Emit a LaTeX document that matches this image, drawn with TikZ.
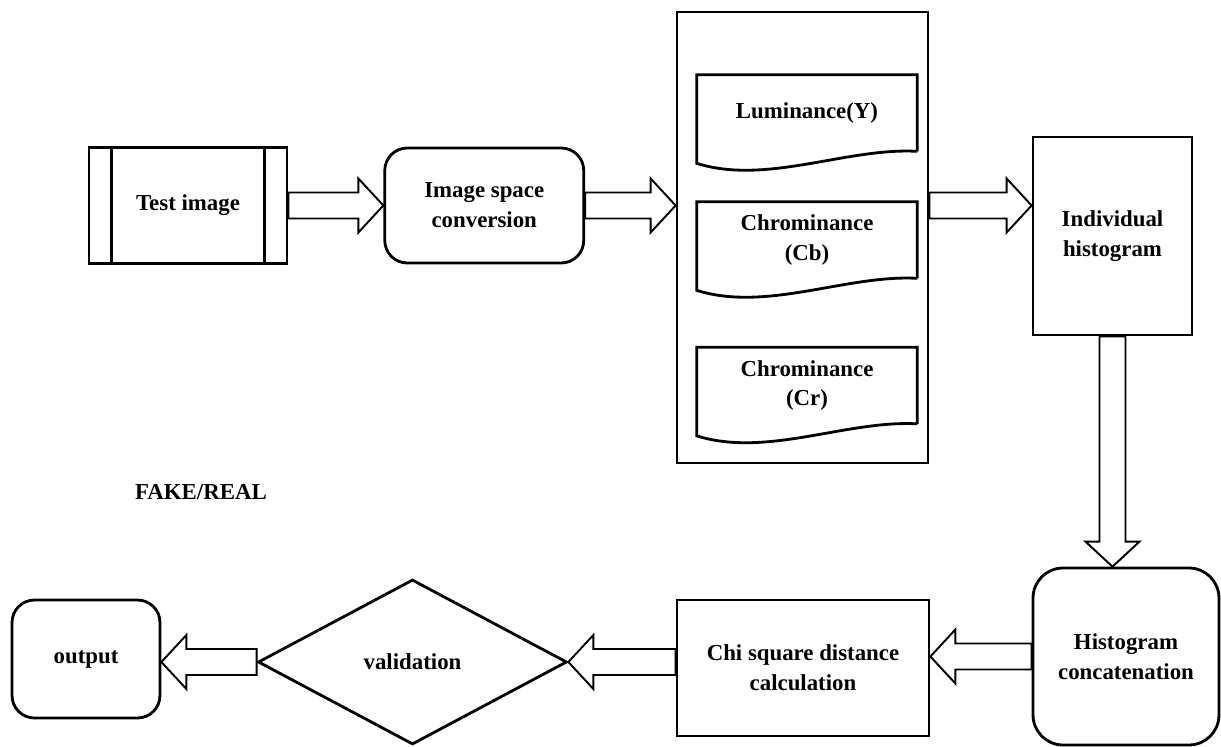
\documentclass[tikz,border=0pt]{standalone}
\usepackage{fontspec}
\setmainfont{Liberation Serif}
\usepackage{tikz}
\usetikzlibrary{ calc, positioning, shapes.geometric }
\tikzset{
every node/.style={font=\bfseries\fontsize{13}{17}\selectfont, align=center, inner sep=1pt}, % bold serif labels
box/.style={draw, line width=1.6pt}, % plain frame of a step
rbox/.style={box, rounded corners=0.45cm}, % rounded step
doc/.style={minimum width=4.4cm, minimum height=1.52cm}, % text area of a document shape
% hollow block arrow from start to target
blockarrow/.style={draw, line width=1.1pt, to path={
  ($(\tikztostart)!0.26cm!90:(\tikztotarget)$)
  -- ($(\tikztotarget)!0.5cm!(\tikztostart)!0.26cm!-90:(\tikztostart)$)
  -- ($(\tikztotarget)!0.5cm!(\tikztostart)!0.54cm!-90:(\tikztostart)$)
  -- (\tikztotarget)
  -- ($(\tikztotarget)!0.5cm!(\tikztostart)!0.54cm!90:(\tikztostart)$)
  -- ($(\tikztotarget)!0.5cm!(\tikztostart)!0.26cm!90:(\tikztostart)$)
  -- ($(\tikztostart)!0.26cm!-90:(\tikztotarget)$) -- cycle}},
}
% document shape with a wavy bottom round a node
\newcommand{\docshape}[1]{%
  \draw[line width=1.6pt] (#1.south east) -- (#1.north east) -- (#1.north west)
    -- ([yshift=-0.24cm]#1.south west)
    .. controls ([shift={(1.4cm,-0.68cm)}]#1.south west) and ([shift={(3.0cm,0.08cm)}]#1.south west) .. (#1.south east);}

\begin{document}
\begin{tikzpicture}[x=0.02cm, y=-0.02cm]% one unit is one pixel of the sketch
  \useasboundingbox (0,0) rectangle (1221,747);

  \node[box, minimum width=3.96cm, minimum height=2.32cm] (test) at (188,205.5) {Test image};
  \node[rbox, minimum width=3.98cm, minimum height=2.3cm, right=1.9cm of test] (conv) {Image space\\conversion};
  \node[box, minimum width=5.02cm, minimum height=9.02cm] (ycc) at (802.5,237.5) {};
  \node[doc] (lum) at (807,113) {Luminance(Y)};
  \node[doc] (cb) at (807,240) {Chrominance\\(Cb)};
  \node[doc] (cr) at (807,385.5) {Chrominance\\(Cr)};
  \node[box, minimum width=3.18cm, minimum height=3.96cm] (hist) at (1112.5,236) {Individual\\histogram};
  \node[rbox, rounded corners=0.6cm, minimum width=3.72cm, minimum height=3.54cm] (concat) at (1126,656.5) {Histogram\\concatenation};
  \node[box, minimum width=5.04cm, minimum height=2.72cm] (chi) at (803,668) {Chi square distance\\calculation};
  \node[box, diamond, aspect=1.87, minimum width=6.18cm, minimum height=3.3cm] (valid) at (412.5,662) {validation};
  \node[rbox, minimum width=2.96cm, minimum height=2.36cm] (output) at (86,659) {output};
  \node (fake) at (201,492) {FAKE/REAL};

  \draw[line width=1.6pt] ([xshift=0.48cm]test.north west) -- ([xshift=0.48cm]test.south west);
  \draw[line width=1.6pt] ([xshift=-0.48cm]test.north east) -- ([xshift=-0.48cm]test.south east);
  \docshape{lum}
  \docshape{cb}
  \docshape{cr}

  \path
  (test.east) edge[blockarrow] (conv.west)
  (conv.east) edge[blockarrow] (conv.east -| ycc.west)
  (conv.east -| ycc.east) edge[blockarrow] (conv.east -| hist.west)
  (hist.south) edge[blockarrow] (hist.south |- concat.north)
  (concat.west) edge[blockarrow] (concat.west -| chi.east)
  (valid.east -| chi.west) edge[blockarrow] (valid.east)
  (valid.west) edge[blockarrow] (valid.west -| output.east);
\end{tikzpicture}
\end{document}
